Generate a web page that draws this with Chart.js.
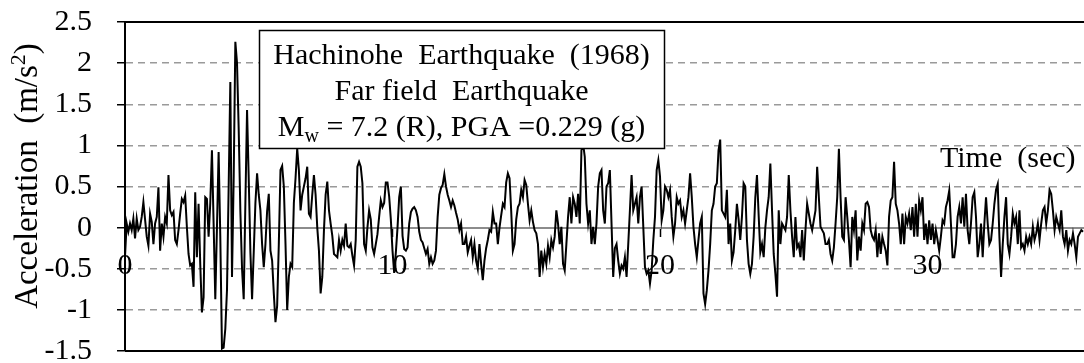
<!DOCTYPE html>
<html>
<head>
<meta charset="utf-8">
<script src="https://cdn.jsdelivr.net/npm/chart.js@4.4.0/dist/chart.umd.min.js"></script>
<style>
html,body{margin:0;padding:0;background:#fff;}
#wrap{width:1084px;height:363px;position:relative;}
</style>
</head>
<body>
<div id="wrap"><canvas id="c" width="1084" height="363"></canvas></div>
<script>
// ---- data (acceleration, m/s^2, sampled every timeStep seconds) ----
const timeStep = 0.0625;
const seg1 = [-0.35,0.05,-0.05,0.05,-0.03,0.11,-0.13,0.11,-0.03,0.01,
0.13,0.31,0.10,-0.11,-0.22,0.17,0.07,-0.20,0.05,0.13,
0.49,-0.28,0.05,-0.11,0.13,0.05,0.64,0.21,0.15,0.19,
-0.15,-0.20,-0.03,0.17,0.35,0.31,0.39,0.01,-0.32,-0.46,
-0.44,-0.72,0.43,-0.36,0.29,-0.44,-1.03,-0.85,0.37,0.35,
-0.11,0.30,0.94,0.05,-0.87,0.00,0.92,-0.11,-1.47,-1.46,
-1.23,-0.76,0.50,1.77,-0.60,0.60,2.26];
const seg2 = [2.00,1.20,0.20,-0.50,-0.87,0.30,1.43,0.60,-0.30,-0.87,
-0.30,0.30,0.66,0.40,0.21,-0.20,-0.48,-0.20,0.20,0.41,
-0.28,-0.40,-0.80,-1.15,-0.95,-0.20,0.70,0.75,0.50,-0.20,
-1.00,-0.60,-0.44,-0.48,0.30,0.60,0.96,0.70,0.21,0.40,
0.50,0.60,0.74,0.17,0.13,0.40,0.64,0.40,0.00,-0.28,
-0.80,-0.60,-0.03,0.40,0.56,0.21,0.05,-0.10,-0.32,-0.34,
-0.36,-0.15,-0.28,-0.15,-0.22,0.05,-0.22,-0.24,-0.20,-0.34,
-0.46,-0.15];
const seg3 = [0.74,0.80,0.74,0.54,-0.20,-0.28,0.00,0.21,0.10,-0.24,
-0.32,-0.20,-0.08,0.13,0.33,0.25,0.30,0.55,0.55,0.38,
0.10,-0.28,-0.55,-0.30,0.00,0.37,0.50,-0.10,-0.26,-0.28,
-0.24,0.05,0.19,0.23,0.25,0.21,0.13,-0.05,-0.15,-0.18,
-0.25,-0.32,-0.26,-0.44,-0.36,-0.44,-0.40,-0.28,0.13,0.40,
0.48,0.52,0.65,0.50,0.40,0.33,0.25,0.33,0.27,0.18,
0.10,-0.03,0.05,-0.20,-0.20,-0.11,-0.30,-0.22,-0.15,-0.36,
-0.20,-0.40];
const seg4 = [-0.50,-0.20,-0.44,-0.64,-0.40,-0.25,-0.15,-0.03,-0.05,0.19,
0.05,0.05,-0.20,0.00,0.15,0.29,0.25,0.55,0.66,0.60,
0.20,-0.28,-0.20,0.10,0.25,0.29,0.46,0.37,0.58,0.52,
0.29,0.09,0.21,0.07,-0.03,-0.07,-0.20,-0.60,-0.28,-0.48,
-0.32,-0.44,-0.22,-0.36,-0.15,-0.24,-0.11,0.21,0.05,-0.20,
0.01,-0.44,-0.52,-0.20,0.13,0.37,0.05,0.37,0.29,0.13,
0.41,0.05,0.94,1.02,0.86,0.29,0.05,0.21,-0.20,0.01,
-0.20,0.05];
const seg5 = [0.50,0.66,0.70,0.21,0.05,0.50,0.54,0.70,0.05,-0.60,
-0.25,-0.20,-0.40,-0.56,-0.46,-0.50,-0.36,-0.60,-0.20,0.21,
0.64,0.21,0.29,0.37,0.05,0.37,0.50,0.01,-0.48,-0.56,
-0.52,-0.68,-0.52,-0.15,0.13,0.70,0.82,0.62,0.09,0.21,
0.50,0.46,0.37,0.46,0.13,-0.11,0.05,0.37,0.29,0.33,
0.13,0.21,0.05,0.21,0.37,0.66,0.37,0.01,-0.20,-0.36,
-0.15,0.05,0.13,-0.80,-0.93,-0.76,-0.52,-0.20,0.21,0.29,
0.50,0.54];
const seg6 = [0.94,1.07,0.21,0.17,0.13,0.46,-0.20,0.05,-0.40,-0.30,
-0.03,0.29,0.10,-0.15,0.13,0.54,0.50,-0.15,-0.44,-0.56,
-0.44,-0.11,0.37,0.64,0.15,-0.30,-0.20,-0.36,0.00,0.21,
0.37,0.78,0.21,-0.32,-0.56,-0.84,0.21,-0.20,0.05,0.01,
-0.03,0.13,0.64,0.21,-0.11,-0.36,0.13,-0.24,-0.20,-0.36,
-0.03,-0.40,-0.03,0.29,0.17,0.05,-0.03,0.09,0.21,0.74,
0.37,0.01,-0.03,-0.07,-0.20,-0.20,-0.15,-0.32,-0.40,-0.24,
0.05,0.37];
const seg7 = [0.96,0.37,-0.11,-0.15,0.37,0.13,-0.15,-0.48,0.13,-0.03,
0.21,-0.40,-0.11,-0.28,0.05,-0.03,0.29,0.31,0.25,-0.03,
-0.11,-0.15,-0.03,-0.36,-0.07,-0.32,-0.11,-0.20,-0.28,-0.46,
0.13,0.33,0.37,0.80,0.29,0.21,0.05,-0.20,0.17,-0.20,
0.13,0.05,0.17,-0.03,0.25,-0.11,0.29,-0.11,0.33,0.21,
0.37,-0.15,0.05,-0.20,0.09,-0.15,0.05,-0.20,-0.03,-0.15,
-0.28,-0.11,0.09,0.05,0.25,0.33,0.45,0.05,-0.36,-0.36,
-0.20,0.13];
const seg8 = [0.25,0.05,0.37,0.01,0.41,-0.03,-0.20,0.05,0.37,0.43,
0.13,-0.36,-0.20,0.05,-0.36,0.05,0.37,0.05,-0.20,-0.15,
0.05,0.29,0.46,0.53,-0.11,-0.60,-0.20,0.13,0.37,-0.20,
-0.32,-0.11,0.17,0.05,0.13,-0.20,0.21,-0.24,-0.20,-0.28,
-0.11,-0.20,-0.11,-0.20,0.01,-0.15,-0.07,0.05,-0.15,0.05,
0.21,0.25,0.05,0.21,0.46,0.41,0.21,-0.03,0.13,0.05,
-0.03,0.21,-0.11,-0.20,-0.03,-0.28,-0.15,-0.20,-0.07,-0.20,
-0.36,-0.11,-0.07,-0.03,-0.05];

const xTickValues = [0, 10, 20, 30];
const yTickValues = [-1.5, -1, -0.5, 0, 0.5, 1, 1.5, 2, 2.5];
const xMin = 0, xMax = 35.85, yMin = -1.5, yMax = 2.5;

const infoLine1 = 'Hachinohe  Earthquake  (1968)';
const infoLine2 = 'Far field  Earthquake';
const infoLine3a = 'M', infoLine3sub = 'w', infoLine3b = ' = 7.2 (R), PGA =0.229 (g)';
const yTitleMain = 'Acceleration  (m/s', yTitleSup = '2', yTitleEnd = ')';
const xTitle = 'Time  (sec)';

// ---- build ----
const accel = [].concat(seg1, seg2, seg3, seg4, seg5, seg6, seg7, seg8);
const points = accel.map((v, i) => ({x: i * timeStep, y: v}));

const FONT = "'Liberation Serif', 'Times New Roman', serif";

const decor = {
  id: 'decor',
  afterDraw(chart) {
    const {ctx, chartArea: a} = chart;
    ctx.save();
    // frame top & bottom
    ctx.strokeStyle = '#000';
    ctx.lineWidth = 2;
    ctx.beginPath();
    ctx.moveTo(a.left, a.top); ctx.lineTo(a.right, a.top);
    ctx.moveTo(a.left, a.bottom); ctx.lineTo(a.right, a.bottom);
    ctx.stroke();

    // info box
    const bx = 259, by = 30, bw = 405, bh = 118;
    ctx.fillStyle = '#fff';
    ctx.fillRect(bx, by, bw, bh);
    ctx.lineWidth = 1.5;
    ctx.strokeStyle = '#000';
    ctx.strokeRect(bx + 0.5, by + 0.5, bw, bh);
    const cx = bx + bw / 2;
    ctx.fillStyle = '#000';
    ctx.textBaseline = 'alphabetic';
    ctx.textAlign = 'center';
    ctx.font = '30px ' + FONT;
    ctx.fillText(infoLine1, cx, 64);
    ctx.fillText(infoLine2, cx, 100);
    // line 3 with subscript
    ctx.textAlign = 'left';
    const big = '30px ' + FONT, small = '20px ' + FONT;
    ctx.font = big; const w1 = ctx.measureText(infoLine3a).width;
    ctx.font = small; const w2 = ctx.measureText(infoLine3sub).width;
    ctx.font = big; const w3 = ctx.measureText(infoLine3b).width;
    let sx = cx - (w1 + w2 + w3) / 2;
    const base3 = 136;
    ctx.font = big; ctx.fillText(infoLine3a, sx, base3); sx += w1;
    ctx.font = small; ctx.fillText(infoLine3sub, sx, base3 + 6); sx += w2;
    ctx.font = big; ctx.fillText(infoLine3b, sx, base3);

    // x title
    ctx.font = '30px ' + FONT;
    ctx.textAlign = 'left';
    ctx.fillText(xTitle, 940, 167);

    // y title (rotated)
    ctx.save();
    ctx.translate(37, 176);
    ctx.rotate(-Math.PI / 2);
    const tf = '33px ' + FONT, sf = '22px ' + FONT;
    ctx.font = tf; const t1 = ctx.measureText(yTitleMain).width;
    ctx.font = sf; const t2 = ctx.measureText(yTitleSup).width;
    ctx.font = tf; const t3 = ctx.measureText(yTitleEnd).width;
    let tx = -(t1 + t2 + t3) / 2;
    ctx.textAlign = 'left';
    ctx.font = tf; ctx.fillText(yTitleMain, tx, 0); tx += t1;
    ctx.font = sf; ctx.fillText(yTitleSup, tx, -12); tx += t2;
    ctx.font = tf; ctx.fillText(yTitleEnd, tx, 0);
    ctx.restore();

    ctx.restore();
  }
};

new Chart(document.getElementById('c'), {
  type: 'line',
  data: {
    datasets: [{
      data: points,
      borderColor: '#000',
      borderWidth: 2,
      pointRadius: 0,
      tension: 0,
      fill: false
    }]
  },
  options: {
    responsive: false,
    animation: false,
    devicePixelRatio: 1,
    layout: {padding: {left: 0, right: 0, top: 22, bottom: 12}},
    plugins: {legend: {display: false}, tooltip: {enabled: false}, title: {display: false}},
    scales: {
      x: {
        type: 'linear',
        min: xMin, max: xMax,
        position: {y: 0},
        afterBuildTicks: s => { s.ticks = xTickValues.map(v => ({value: v})); },
        afterFit: s => { s.paddingLeft = 0; s.paddingRight = 0; },
        grid: {drawOnChartArea: false, drawTicks: true, tickLength: 8, tickColor: '#000', tickWidth: 1.5},
        border: {display: true, color: '#8c8c8c', width: 2},
        ticks: {font: {family: FONT, size: 30}, color: '#000', padding: 12, maxRotation: 0, autoSkip: false,
                callback: v => String(v)}
      },
      y: {
        type: 'linear',
        min: yMin, max: yMax,
        afterBuildTicks: s => { s.ticks = yTickValues.map(v => ({value: v})); },
        afterFit: s => { s.width = 125; s.paddingTop = 0; s.paddingBottom = 0; },
        grid: {
          color: c => (c.tick && (c.tick.value === 0 || c.tick.value === yMin || c.tick.value === yMax)) ? 'rgba(0,0,0,0)' : '#9a9a9a',
          lineWidth: 1.5, drawTicks: true, tickLength: 8, tickColor: '#000', tickWidth: 1.5
        },
        border: {display: true, color: '#000', width: 2, dash: [7, 5]},
        ticks: {font: {family: FONT, size: 30}, color: '#000', padding: 25,
                callback: v => String(v)}
      }
    }
  },
  plugins: [decor]
});
</script>
</body>
</html>
